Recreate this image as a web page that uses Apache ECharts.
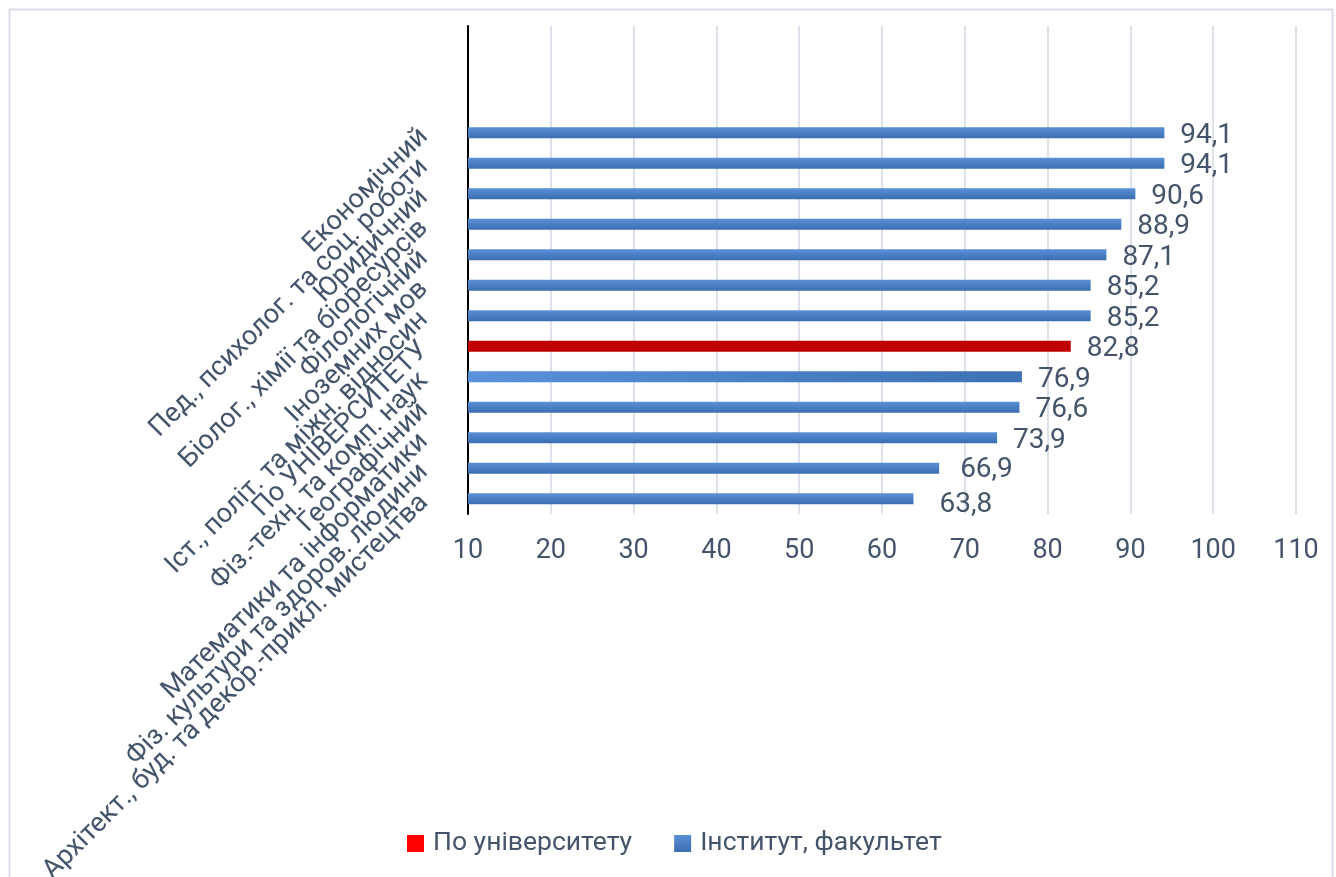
<!DOCTYPE html>
<html>
<head>
<meta charset="utf-8">
<script src="https://cdn.jsdelivr.net/npm/echarts@6/dist/echarts.min.js"></script>
<style>
html,body{margin:0;padding:0;background:#fff;}
#chart{width:1336px;height:877px;}
</style>
</head>
<body>
<div id="chart"></div>
<script>
// Categories listed top to bottom
const categories = [
  'Економічний',
  'Пед., психолог. та соц. роботи',
  'Юридичний',
  'Біолог., хімії та біоресурсів',
  'Філологічний',
  'Іноземних мов',
  'Іст., політ. та міжн. відносин',
  'По УНІВЕРСИТЕТУ',
  'Фіз.-техн. та комп. наук',
  'Географічний',
  'Математики та інформатики',
  'Фіз. культури та здоров. людини',
  'Архітект., буд. та декор.-прикл. мистецтва'
];
const values = [94.1, 94.1, 90.6, 88.9, 87.1, 85.2, 85.2, 82.8, 76.9, 76.6, 73.9, 66.9, 63.8];
const universityCategory = 'По УНІВЕРСИТЕТУ';
const seriesNames = ['По університету', 'Інститут, факультет'];
const xTicks = [10, 20, 30, 40, 50, 60, 70, 80, 90, 100, 110];
const emptyTopSlots = 3;

const FONT = 'Roboto';
const TXT = '#44546A';

const blueV = new echarts.graphic.LinearGradient(0, 0, 0, 1, [
  {offset: 0, color: '#5B90D8'}, {offset: 1, color: '#3B6EB0'}
]);
const blueH = new echarts.graphic.LinearGradient(0, 0, 1, 0, [
  {offset: 0, color: '#5892DA'}, {offset: 1, color: '#3C71B3'}
]);

// small per-item label nudges seen in the reference
const labelNudge = {
  'Фіз. культури та здоров. людини': [5, 2],
  'Архітект., буд. та декор.-прикл. мистецтва': [10, 6]
};

const yCats = Array(emptyTopSlots).fill('').concat(categories);
const pad = Array(emptyTopSlots).fill('-');

const uniData = pad.concat(categories.map((c, i) => c === universityCategory ? values[i] : '-'));
const instData = pad.concat(categories.map((c, i) => {
  if (c === universityCategory) return '-';
  const item = {value: values[i]};
  if (c === 'Фіз.-техн. та комп. наук') item.itemStyle = {color: blueH};
  if (labelNudge[c]) item.label = {offset: labelNudge[c]};
  return item;
}));

const labelFmt = p => String(p.value).replace('.', ',');

const chart = echarts.init(document.getElementById('chart'));
chart.setOption({
  animation: false,
  backgroundColor: '#fff',
  textStyle: {fontFamily: FONT},
  graphic: [{
    type: 'rect', left: 7, top: 7,
    shape: {x: 0, y: 0, width: 1323, height: 880},
    style: {fill: 'none', stroke: '#D9DEE8', lineWidth: 2}, silent: true, z: -1
  }],
  grid: {left: 468, right: 40, top: 26, bottom: 363, containLabel: false, outerBoundsMode: 'none'},
  legend: {
    left: 402, top: 825,
    itemWidth: 17, itemHeight: 17, itemGap: 42, icon: 'rect',
    textStyle: {fontFamily: FONT, fontSize: 26.5, color: TXT, padding: [0, 0, 0, 4]},
    data: [
      {name: seriesNames[0], itemStyle: {color: '#FF0000'}},
      {name: seriesNames[1]}
    ]
  },
  xAxis: {
    type: 'value', min: xTicks[0], max: xTicks[xTicks.length - 1], interval: 10,
    axisLine: {show: false}, axisTick: {show: false},
    splitLine: {show: true, lineStyle: {color: '#DCE1EA', width: 2}},
    axisLabel: {fontFamily: FONT, fontSize: 27, color: TXT, margin: 24}
  },
  yAxis: {
    type: 'category', inverse: true, data: yCats,
    axisLine: {show: true, lineStyle: {color: '#000', width: 2}},
    axisTick: {show: false},
    axisLabel: {fontFamily: FONT, fontSize: 27, color: TXT, rotate: 45, margin: 44, interval: 0}
  },
  series: [
    {
      name: seriesNames[0], type: 'bar', data: uniData, barWidth: 11, barGap: '-100%',
      itemStyle: {color: '#C00000'},
      label: {show: true, position: 'right', distance: 16, formatter: labelFmt,
        fontFamily: FONT, fontSize: 28, color: TXT, offset: [0, 3]}
    },
    {
      name: seriesNames[1], type: 'bar', data: instData, barWidth: 11, barGap: '-100%',
      itemStyle: {color: blueV},
      label: {show: true, position: 'right', distance: 16, formatter: labelFmt,
        fontFamily: FONT, fontSize: 28, color: TXT, offset: [0, 3]}
    }
  ]
});
</script>
</body>
</html>
